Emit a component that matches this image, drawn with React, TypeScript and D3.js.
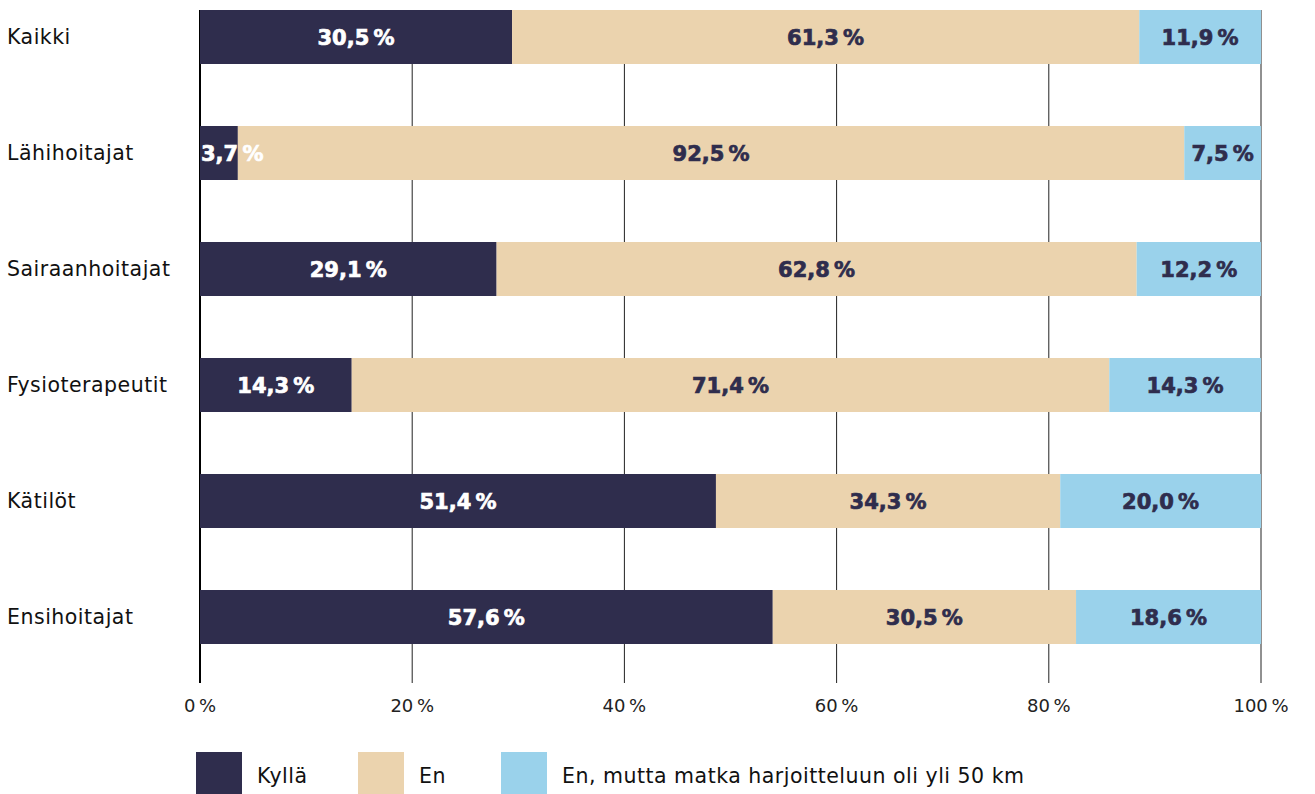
import * as React from 'react';
import * as d3 from 'd3';

const categories = ['Kaikki', 'Lähihoitajat', 'Sairaanhoitajat', 'Fysioterapeutit', 'Kätilöt', 'Ensihoitajat'];
const kylla = [30.5, 3.7, 29.1, 14.3, 51.4, 57.6];
const en = [61.3, 92.5, 62.8, 71.4, 34.3, 30.5];
const enMatka = [11.9, 7.5, 12.2, 14.3, 20.0, 18.6];
const seriesNames = ['Kyllä', 'En', 'En, mutta matka harjoitteluun oli yli 50 km'];
const seriesColors = ['#2f2d4d', '#ebd3ae', '#9ad2eb'];
const labelColors = ['#ffffff', '#2f2d4d', '#2f2d4d'];
const ticks = [0, 0.2, 0.4, 0.6, 0.8, 1];

const W = 1315;
const H = 794;
const regular = '"DejaVu Sans", sans-serif';

function fmt(v: number) {
  return v.toFixed(1).replace('.', ',') + '\u202F%';
}

export default function App() {
  const keys = ['k0', 'k1', 'k2'];
  const rows = categories.map((c, i) => ({ cat: c, k0: kylla[i], k1: en[i], k2: enMatka[i] }));
  const stacked = d3.stack<any>().keys(keys).offset(d3.stackOffsetExpand)(rows);

  const x = d3.scaleLinear().domain([0, 1]).range([200, 1261]);
  const y = d3.scaleBand<string>().domain(categories).range([10, 644]).paddingInner(62 / 116).paddingOuter(0);

  return (
    <div style={{ position: 'absolute', left: 0, top: 0 }}>
      <svg width={W} height={H} style={{ display: 'block', background: '#fff' }}>
        {/* grid */}
        {ticks.map((t, i) => (
          <line key={i} x1={x(t)} x2={x(t)} y1={10} y2={683}
            stroke={t === 0 ? '#000' : '#222'} strokeWidth={t === 0 ? 2 : 1} />
        ))}
        {/* bars */}
        {stacked.map((s, si) => (
          <g key={si}>
            {s.map((d, i) => (
              <rect key={i} x={x(d[0])} y={y(categories[i])} width={x(d[1]) - x(d[0])}
                height={y.bandwidth()} fill={seriesColors[si]} />
            ))}
          </g>
        ))}
        {/* value labels */}
        {stacked.map((s, si) => (
          <g key={si}>
            {s.map((d, i) => {
              const w = x(d[1]) - x(d[0]);
              const narrow = w < 70;
              const v = (rows[i] as any)[keys[si]];
              return (
                <text key={i}
                  x={narrow ? x(d[0]) + 1 : (x(d[0]) + x(d[1])) / 2}
                  y={y(categories[i])! + y.bandwidth() / 2}
                  dy="0.36em"
                  textAnchor={narrow ? 'start' : 'middle'}
                  fontFamily={regular} fontWeight="bold" fontSize={21}
                  fill={labelColors[si]} stroke={labelColors[si]} strokeWidth={0.7}>
                  {fmt(v)}
                </text>
              );
            })}
          </g>
        ))}
        {/* category labels */}
        {categories.map((c, i) => (
          <text key={i} x={7} y={y(c)! + y.bandwidth() / 2} dy="0.36em"
            fontFamily={regular} fontSize={20.5} letterSpacing={0.5} fill="#111">{c}</text>
        ))}
        {/* x tick labels */}
        {ticks.map((t, i) => (
          <text key={i} x={x(t)} y={712} textAnchor="middle"
            fontFamily={regular} fontSize={18} letterSpacing={0.4} fill="#222">{Math.round(t * 100) + '\u202F%'}</text>
        ))}
        {/* legend */}
        {seriesNames.map((n, i) => {
          const lx = [196, 358, 501][i];
          return (
            <g key={i} transform={`translate(${lx},752)`}>
              <rect width={46} height={42} fill={seriesColors[i]} />
              <text x={61} y={31} fontFamily={regular} fontSize={20.5} letterSpacing={0.5} fill="#111">{n}</text>
            </g>
          );
        })}
      </svg>
    </div>
  );
}
